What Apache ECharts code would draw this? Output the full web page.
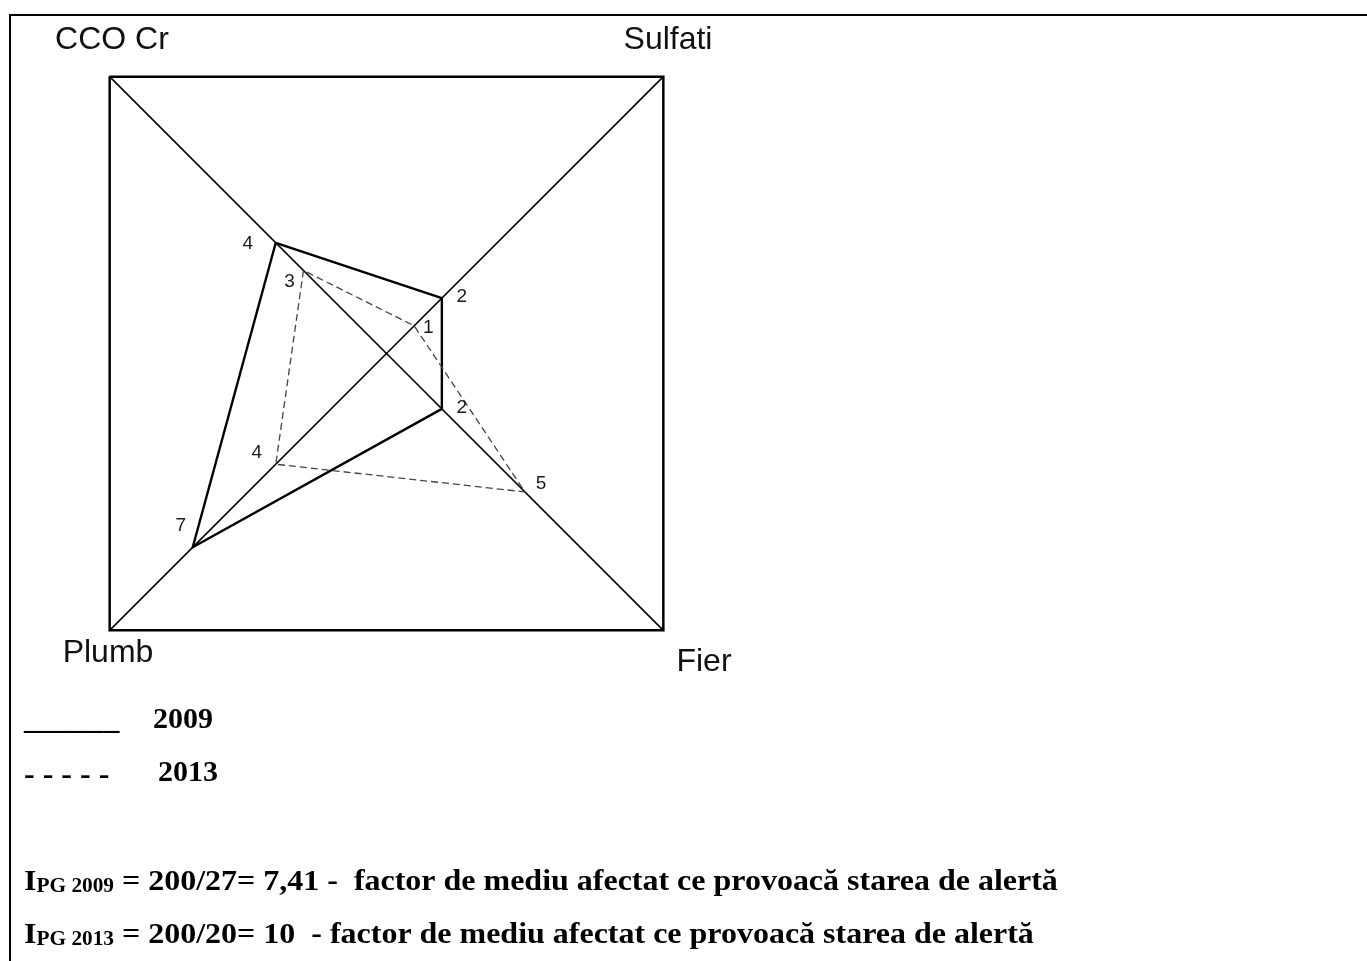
<!DOCTYPE html>
<html>
<head>
<meta charset="utf-8">
<script src="https://cdn.jsdelivr.net/npm/echarts@6/dist/echarts.min.js"></script>
<style>
    html, body { margin: 0; padding: 0; background: #fff; }
    #chart { width: 1367px; height: 961px; }
</style>
</head>
<body>
<div id="chart"></div>
<script>
// Indicators, counter-clockwise from top-left corner
const indicators = ['CCO Cr', 'Plumb', 'Fier', 'Sulfati'];
const maxValue = 10;
const years = ['2009', '2013'];
const values2009 = [4, 7, 2, 2];
const values2013 = [3, 4, 5, 1];
const legendMarks = ['______', '- - - - -'];
const indexLines = [
    { year: '2009', text: ' = 200/27= 7,41 -  factor de mediu afectat ce provoacă starea de alertă' },
    { year: '2013', text: ' = 200/20= 10  - factor de mediu afectat ce provoacă starea de alertă' }
];

const chart = echarts.init(document.getElementById('chart'));

// label offsets next to each vertex (keyed by value), px
const labelShift = {
    '2009': { 4: [-28, 1], 7: [-12, -22], 2: [20, -1] },
    '2013': { 3: [-14, 11], 4: [-19, -11], 5: [16, -8], 1: [14, 2] }
};

function richFor(year) {
    const rich = {};
    Object.keys(labelShift[year]).forEach(v => {
        const [dx, dy] = labelShift[year][v];
        rich['v' + v] = {
            fontFamily: 'Liberation Sans',
            fontSize: 19,
            color: '#1a1a1a',
            padding: [dy > 0 ? 2 * dy : 0, dx < 0 ? -2 * dx : 0, dy < 0 ? -2 * dy : 0, dx > 0 ? 2 * dx : 0]
        };
    });
    return rich;
}

function vertexLabel(year) {
    return {
        show: true,
        position: 'inside',
        formatter: p => '{v' + p.value + '|' + p.value + '}',
        rich: richFor(year)
    };
}

// corner names placed around the square
const namePos = {
    'CCO Cr': [112, 40],
    'Sulfati': [668, 40],
    'Plumb': [108, 653],
    'Fier': [704, 662]
};

const serifBold = 'bold 30px "Liberation Serif"';

const graphics = [
    { type: 'line', shape: { x1: 9, y1: 15, x2: 1367, y2: 15 }, style: { stroke: '#000', lineWidth: 2 } },
    { type: 'line', shape: { x1: 10, y1: 14, x2: 10, y2: 961 }, style: { stroke: '#000', lineWidth: 2 } }
];

indicators.forEach(n => {
    graphics.push({
        type: 'text',
        x: namePos[n][0],
        y: namePos[n][1],
        style: {
            text: n,
            font: '32px "Liberation Sans"',
            fill: '#111',
            align: 'center',
            verticalAlign: 'middle'
        }
    });
});

// legend rows
graphics.push(
    { type: 'text', x: 24, y: 721, scaleX: 1.06, style: { text: legendMarks[0], font: serifBold, fill: '#000', verticalAlign: 'middle' } },
    { type: 'text', x: 153, y: 720, style: { text: years[0], font: serifBold, fill: '#000', verticalAlign: 'middle' } },
    { type: 'text', x: 24, y: 776, style: { text: legendMarks[1], font: 'bold 32px "Liberation Serif"', fill: '#000', verticalAlign: 'middle' } },
    { type: 'text', x: 158, y: 773, style: { text: years[1], font: serifBold, fill: '#000', verticalAlign: 'middle' } }
);

// I_PG lines
indexLines.forEach((row, i) => {
    graphics.push({
        type: 'text',
        x: 24,
        y: 880 + i * 53,
        scaleX: 1.066,
        style: {
            text: '{b|I}{s|PG ' + row.year + '}{b|' + row.text + '}',
            verticalAlign: 'middle',
            rich: {
                b: { font: serifBold, fill: '#000', lineHeight: 34, verticalAlign: 'bottom' },
                s: { font: 'bold 20px "Liberation Serif"', fill: '#000', lineHeight: 22, verticalAlign: 'bottom' }
            }
        }
    });
});

const option = {
    backgroundColor: '#fff',
    animation: false,
    radar: {
        center: [386.5, 353.5],
        radius: 391.5,
        startAngle: 135,
        shape: 'polygon',
        splitNumber: 1,
        indicator: indicators.map(n => ({ name: n, min: 0, max: maxValue })),
        axisName: { show: false },
        axisTick: { show: false },
        axisLabel: { show: false },
        axisLine: { lineStyle: { color: '#000', width: 1.6 } },
        splitLine: { lineStyle: { color: '#000', width: 2.5 } },
        splitArea: { show: false }
    },
    series: [
        {
            type: 'radar',
            name: years[0],
            symbol: 'circle',
            symbolSize: 1,
            itemStyle: { color: 'rgba(0,0,0,0)' },
            lineStyle: { color: '#000', width: 2.4, type: 'solid' },
            label: vertexLabel('2009'),
            data: [{ name: years[0], value: values2009 }]
        },
        {
            type: 'radar',
            name: years[1],
            symbol: 'circle',
            symbolSize: 1,
            itemStyle: { color: 'rgba(0,0,0,0)' },
            lineStyle: { color: '#444', width: 1.3, type: [7, 4] },
            label: vertexLabel('2013'),
            data: [{ name: years[1], value: values2013 }]
        }
    ],
    graphic: graphics
};

chart.setOption(option);
</script>
</body>
</html>
